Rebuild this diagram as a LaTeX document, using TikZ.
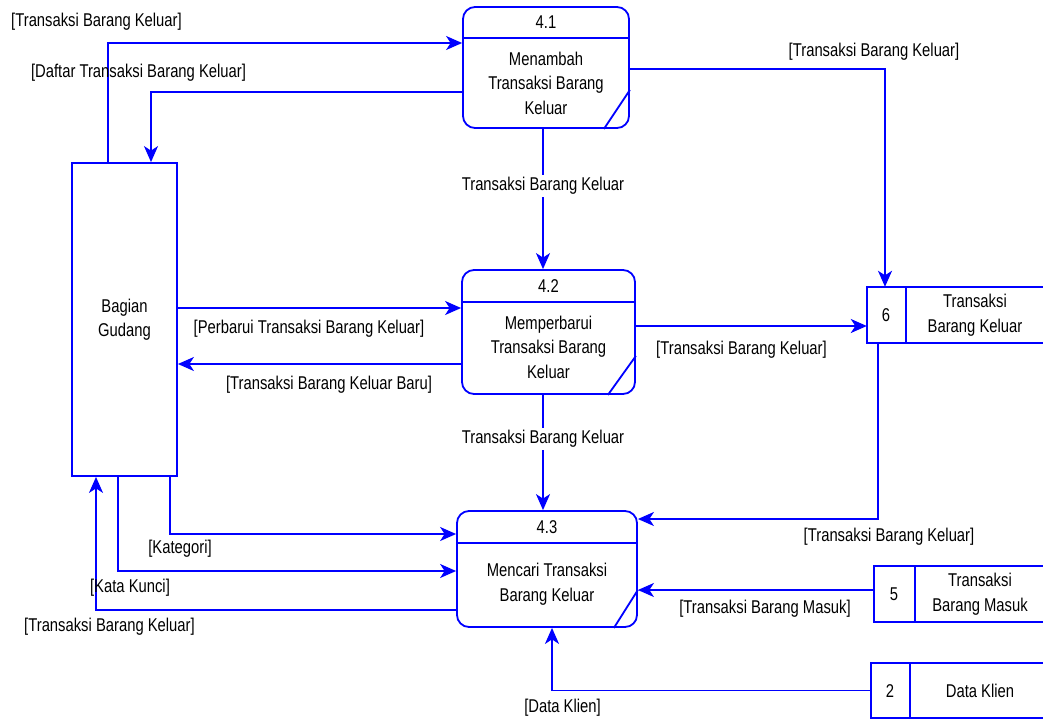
\documentclass[tikz,border=0pt]{standalone}
\usepackage{fontspec}
\setmainfont{Liberation Sans}[FakeStretch=0.8]
\usepackage{xcolor}
\usepackage{tikz}
\usetikzlibrary{positioning,arrows.meta}

\tikzset{
  proc/.style={draw=blue, line width=1.8pt, rounded corners=12pt, inner sep=0pt},
  ent/.style={draw=blue, line width=1.8pt, align=center},
  edge/.style={blue, line width=1.8pt},
  flow/.style={blue, line width=1.8pt, -{Stealth[length=16pt,width=14pt,inset=4.5pt]}},
  lbl/.style={inner sep=1pt},
  midlbl/.style={fill=white, inner sep=2pt}
}

\begin{document}
\begin{tikzpicture}[x=1pt, y=-1pt,
  every node/.style={font=\fontsize{18.5}{24.5}\selectfont}]
\useasboundingbox (0,0) rectangle (1043,720);

% External entity
\node[ent, minimum width=105pt, minimum height=313pt] (gudang) at (124.5,319.5) {Bagian\\Gudang};

% Processes
\node[proc, minimum width=166pt, minimum height=121pt] (p41) at (546,67.5) {};
\node[proc, minimum width=173pt, minimum height=124pt] (p42) at (548.5,332) {};
\node[proc, minimum width=180pt, minimum height=116pt] (p43) at (547,569) {};

\draw[edge] (p41.west |- 0,38) -- (p41.east |- 0,38);
\draw[edge] (p42.west |- 0,302) -- (p42.east |- 0,302);
\draw[edge] (p43.west |- 0,543) -- (p43.east |- 0,543);
\draw[edge] ([xshift=-26pt]p41.south east) -- ([yshift=39pt]p41.south east);
\draw[edge] ([xshift=-28pt]p42.south east) -- ([yshift=39pt]p42.south east);
\draw[edge] ([xshift=-24pt]p43.south east) -- ([yshift=38pt]p43.south east);

\node (n41) at (546,22) {4.1};
\node (n42) at (548.5,286) {4.2};
\node (n43) at (547,527) {4.3};
\node[align=center] (t41) at (546,83) {Menambah\\Transaksi Barang\\Keluar};
\node[align=center] (t42) at (548.5,347) {Memperbarui\\Transaksi Barang\\Keluar};
\node[align=center] (t43) at (547,584) {Mencari Transaksi\\Barang Keluar};

% Data stores
\node[minimum width=178pt, minimum height=56pt] (s6) at (956,315) {};
\node[minimum width=171pt, minimum height=56pt] (s5) at (959.5,594) {};
\node[minimum width=174pt, minimum height=55pt] (s2) at (958,690.5) {};
\foreach \s/\d in {s6/906, s5/915, s2/910} {
  \draw[edge] (\s.north east) -- (\s.north west) -- (\s.south west) -- (\s.south east);
  \draw[edge] (\s.north -| \d,0) -- (\s.south -| \d,0);
}
\node (k6) at (886,315) {6};
\node (k5) at (894,594) {5};
\node (k2) at (890,691) {2};
\node[align=center] (d6) at (975,315) {Transaksi\\Barang Keluar};
\node[align=center] (d5) at (980,594) {Transaksi\\Barang Masuk};
\node (d2) at (980,691) {Data Klien};

% Flows
\draw[flow] (gudang.north -| 108,0) |- (p41.west |- 0,43);
\draw[flow] (p41.west |- 0,92) -| (gudang.north -| 151,0);
\draw[flow] (p41.east |- 0,69) -| (s6.north -| 885,0);
\draw[flow] (p41.south -| 543,0) -- (p42.north -| 543,0);
\draw[flow] (gudang.east |- 0,308) -- (p42.west |- 0,308);
\draw[flow] (p42.west |- 0,364) -- (gudang.east |- 0,364);
\draw[flow] (p42.east |- 0,326) -- (s6.west |- 0,326);
\draw[flow] (p42.south -| 543,0) -- (p43.north -| 543,0);
\draw[flow] (s6.south -| 878,0) |- (p43.east |- 0,519);
\draw[flow] (gudang.south -| 170,0) |- (p43.west |- 0,534);
\draw[flow] (gudang.south -| 118,0) |- (p43.west |- 0,571);
\draw[flow] (p43.west |- 0,610) -| (gudang.south -| 96,0);
\draw[flow] (s5.west |- 0,590) -- (p43.east |- 0,590);
\draw[flow] (s2.west) -| (p43.south -| 552,0);

% Flow labels
\node[lbl] (l1) at (96.5,22) {[Transaksi Barang Keluar]};
\node[lbl] (l2) at (138.5,73) {[Daftar Transaksi Barang Keluar]};
\node[lbl] (l3) at (874,52) {[Transaksi Barang Keluar]};
\node[midlbl] (l4) at (543,186) {Transaksi Barang Keluar};
\node[lbl] (l5) at (309,329) {[Perbarui Transaksi Barang Keluar]};
\node[lbl] (l6) at (329,385) {[Transaksi Barang Keluar Baru]};
\node[lbl] (l7) at (741.5,350) {[Transaksi Barang Keluar]};
\node[midlbl] (l8) at (543,439) {Transaksi Barang Keluar};
\node[lbl] (l9) at (889,537) {[Transaksi Barang Keluar]};
\node[lbl] (l10) at (180,549) {[Kategori]};
\node[lbl] (l11) at (130,588) {[Kata Kunci]};
\node[lbl] (l12) at (109.5,627) {[Transaksi Barang Keluar]};
\node[lbl] (l13) at (765,609) {[Transaksi Barang Masuk]};
\node[lbl] (l14) at (562.5,708) {[Data Klien]};
\end{tikzpicture}
\end{document}
